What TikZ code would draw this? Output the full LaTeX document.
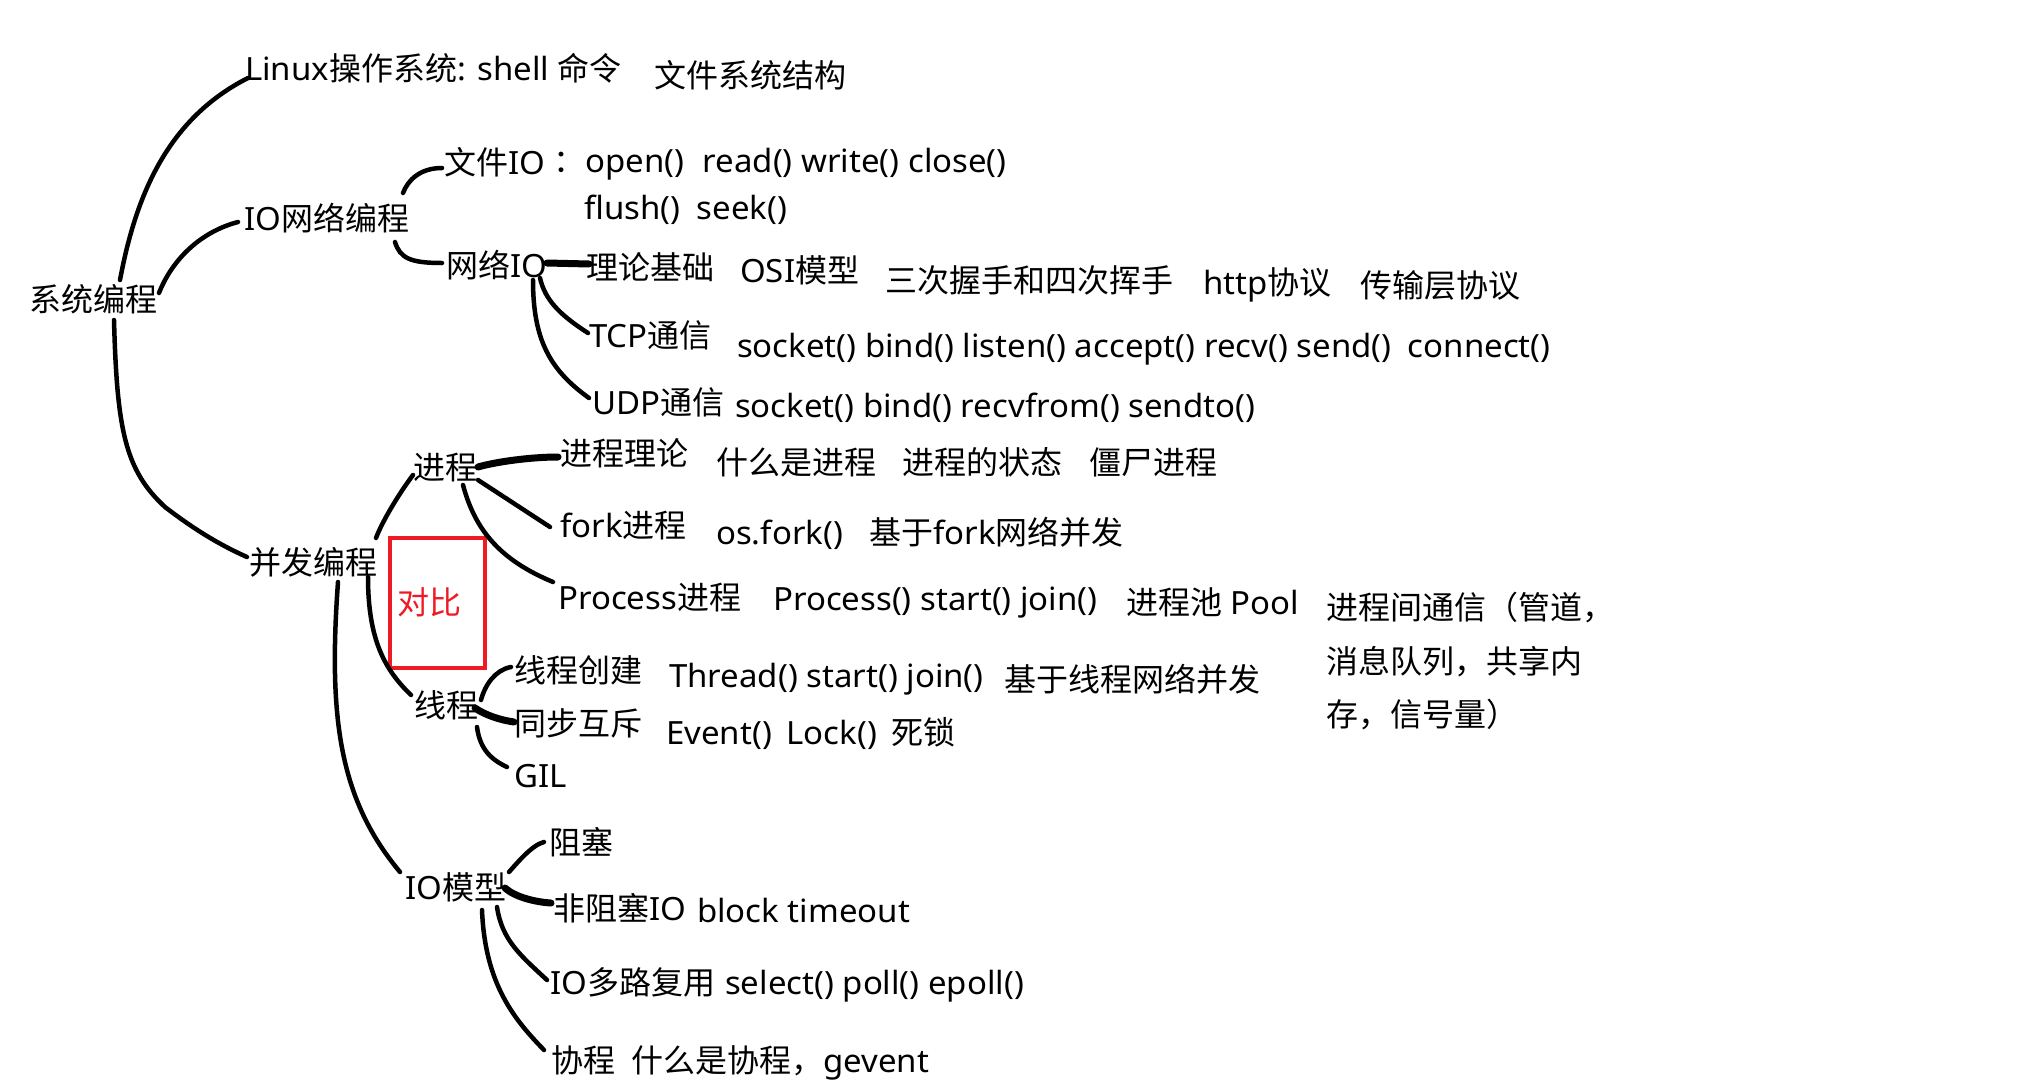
\documentclass[tikz,border=0pt]{standalone}
\usepackage{fontspec}
\setmainfont{Noto Sans}[FakeStretch=1.03]
\newfontfamily\cjk{Noto Sans CJK SC}
\newcommand\zh[1]{{\cjk #1}}
\definecolor{redc}{RGB}{237,28,36}
\begin{document}
\begin{tikzpicture}[x=1pt,y=-1pt,
  lbl/.style={anchor=west, inner sep=0pt, text height=28pt, text depth=4pt, font=\fontsize{32}{38}\selectfont},
  conn/.style={line width=4.5pt, line cap=round, black},
  thick conn/.style={line width=7pt, line cap=round, black}]
\fill[white] (0,0) rectangle (2036,1084);
\useasboundingbox (0,0) rectangle (2036,1084);

% nodes
\node[lbl] (sys) at (29,299) {\zh{系统编程}};
\node[lbl] (lin) at (245,68) {Linux\zh{操作系统}: shell \zh{命令}};
\node[lbl] (fs) at (654,75) {\zh{文件系统结构}};
\node[lbl] (ionet) at (244,218) {IO\zh{网络编程}};
\node[lbl] (fio) at (444,162) {\zh{文件}IO};
\node[lbl] (fioc) at (553,160) {\zh{：}open()\hspace{10pt} read() write() close()};
\node[lbl] (flush) at (584,207) {flush()\hspace{8pt} seek()};
\node[lbl] (netio) at (446,265) {\zh{网络}IO};
\node[lbl] (theory) at (586,267) {\zh{理论基础}};
\node[lbl] (osi) at (740,270) {OSI\zh{模型}};
\node[lbl] (hand) at (885,280) {\zh{三次握手和四次挥手}};
\node[lbl] (http) at (1203,282) {http\zh{协议}};
\node[lbl] (trans) at (1360,285) {\zh{传输层协议}};
\node[lbl] (tcp) at (589,335) {TCP\zh{通信}};
\node[lbl] (tcpf) at (737,345) {socket() bind() listen() accept() recv() send()\hspace{8pt} connect()};
\node[lbl] (udp) at (592,402) {UDP\zh{通信}};
\node[lbl] (udpf) at (735,405) {socket() bind() recvfrom() sendto()};
\node[lbl] (conc) at (249,562) {\zh{并发编程}};
\node[lbl] (proc) at (413,467) {\zh{进程}};
\node[lbl] (ptheory) at (560,453) {\zh{进程理论}};
\node[lbl] (what) at (716,462) {\zh{什么是进程}};
\node[lbl] (pstate) at (902,462) {\zh{进程的状态}};
\node[lbl] (zombie) at (1089,462) {\zh{僵尸进程}};
\node[lbl] (fork) at (560,525) {fork\zh{进程}};
\node[lbl] (osfork) at (716,532) {os.fork()};
\node[lbl] (forknet) at (869,532) {\zh{基于}fork\zh{网络并发}};
\node[lbl] (pproc) at (558,597) {Process\zh{进程}};
\node[lbl] (pfun) at (773,598) {Process() start() join()};
\node[lbl] (pool) at (1126,602) {\zh{进程池} Pool};
\node[lbl] (ipc1) at (1326,607) {\zh{进程间通信（管道，}};
\node[lbl] (ipc2) at (1326,661) {\zh{消息队列，共享内}};
\node[lbl] (ipc3) at (1326,714) {\zh{存，信号量）}};
\node[draw=redc, line width=4.5pt, minimum width=95pt, minimum height=130pt, inner sep=0pt] (cmp) at (437.5,603) {};
\node[lbl, text=redc] (cmpt) at (397,602) {\zh{对比}};
\node[lbl] (thr) at (414,705) {\zh{线程}};
\node[lbl] (tcreate) at (514,670) {\zh{线程创建}};
\node[lbl] (tfun) at (669,675) {Thread() start() join()};
\node[lbl] (tnet) at (1004,679) {\zh{基于线程网络并发}};
\node[lbl] (sync) at (514,723) {\zh{同步互斥}};
\node[lbl] (syncf) at (666,732) {Event()\hspace{6pt} Lock()\hspace{6pt} \zh{死锁}};
\node[lbl] (gil) at (514,775) {GIL};
\node[lbl] (iom) at (405,887) {IO\zh{模型}};
\node[lbl] (block) at (549,842) {\zh{阻塞}};
\node[lbl] (nb) at (553,908) {\zh{非阻塞}IO};
\node[lbl] (nbf) at (697,910) {block timeout};
\node[lbl] (mux) at (550,982) {IO\zh{多路复用}};
\node[lbl] (muxf) at (725,982) {select() poll() epoll()};
\node[lbl] (coro) at (551,1060) {\zh{协程}};
\node[lbl] (corof) at (631,1060) {\zh{什么是协程，}gevent};

% connectors
\draw[conn] ([shift={(91,-19)}]sys.west) .. controls (135,200) and (165,120) .. ([shift={(3,10)}]lin.west);
\draw[conn] ([shift={(130,-6)}]sys.west) .. controls (172,260) and (200,232) .. ([shift={(-6,4)}]ionet.west);
\draw[conn] ([shift={(159,-25)}]ionet.west) .. controls (408,180) and (420,168) .. ([shift={(-2,6)}]fio.west);
\draw[conn] ([shift={(151,24)}]ionet.west) .. controls (400,258) and (410,263) .. ([shift={(-4,-2)}]netio.west);
\draw[thick conn] ([shift={(101,-2)}]netio.west) -- ([shift={(3,-3)}]theory.west);
\draw[conn] ([shift={(94,13)}]netio.west) .. controls (545,300) and (560,315) .. ([shift={(-1,-2)}]tcp.west);
\draw[conn] ([shift={(87,15)}]netio.west) .. controls (533,340) and (550,370) .. ([shift={(-3,-4)}]udp.west);
\draw[conn] ([shift={(85,21)}]sys.west) .. controls (117,430) and (125,470) .. (165,507) .. controls (195,530) and (220,545) .. ([shift={(-2,-5)}]conc.west);
\draw[conn] ([shift={(127,-24)}]conc.west) .. controls (382,522) and (398,495) .. ([shift={(0,8)}]proc.west);
\draw[thick conn] ([shift={(65,0)}]proc.west) .. controls (495,462) and (530,457) .. ([shift={(-2,4)}]ptheory.west);
\draw[conn] ([shift={(65,13)}]proc.west) -- ([shift={(-10,2)}]fork.west);
\draw[conn] ([shift={(50,18)}]proc.west) .. controls (475,530) and (500,560) .. ([shift={(-5,-15)}]pproc.west);
\draw[conn] ([shift={(119,15)}]conc.west) .. controls (368,640) and (385,670) .. ([shift={(-3,-10)}]thr.west);
\draw[conn] ([shift={(67,-5)}]thr.west) .. controls (485,685) and (495,670) .. ([shift={(-3,-3)}]tcreate.west);
\draw[thick conn] ([shift={(61,3)}]thr.west) .. controls (485,715) and (500,720) .. ([shift={(0,-1)}]sync.west);
\draw[conn] ([shift={(63,22)}]thr.west) .. controls (480,750) and (492,760) .. ([shift={(-7,-8)}]gil.west);
\draw[conn] ([shift={(89,20)}]conc.west) .. controls (328,720) and (340,800) .. ([shift={(-5,-15)}]iom.west);
\draw[conn] ([shift={(104,-15)}]iom.west) .. controls (518,862) and (532,845) .. ([shift={(-5,0)}]block.west);
\draw[thick conn] ([shift={(100,1)}]iom.west) .. controls (515,897) and (535,902) .. ([shift={(-2,-5)}]nb.west);
\draw[conn] ([shift={(92,20)}]iom.west) .. controls (502,940) and (520,955) .. ([shift={(-3,-2)}]mux.west);
\draw[conn] ([shift={(77,23)}]iom.west) .. controls (485,985) and (515,1020) .. ([shift={(-7,-10)}]coro.west);
\end{tikzpicture}
\end{document}
